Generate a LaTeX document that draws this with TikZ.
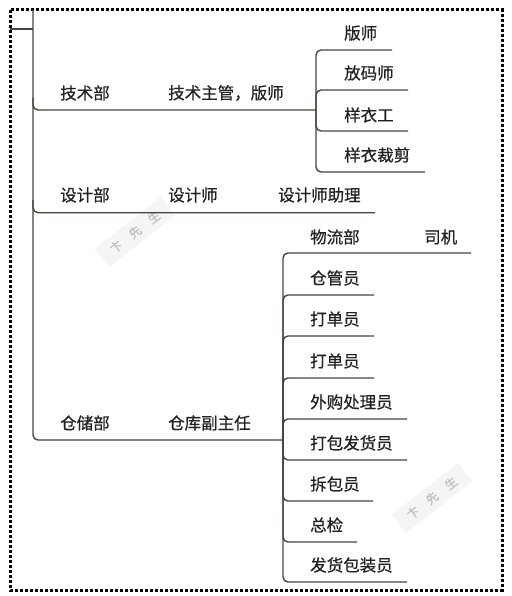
\documentclass[tikz,border=0pt]{standalone}
\usepackage{fontspec}
\setmainfont{Noto Sans CJK SC}[FakeBold=0.6]
\usetikzlibrary{calc}
\definecolor{lnc}{HTML}{4A443C}
\definecolor{txc}{HTML}{222222}
\tikzset{
  ln/.style={draw=lnc, line width=1.4pt, rounded corners=5pt},
  lbl/.style={anchor=west, inner sep=0pt, text=txc, font=\fontsize{16.5}{18}\selectfont},
  wm/.style={rotate=38, fill=gray!8, text=gray!50, inner xsep=12pt, inner ysep=6pt, font=\fontsize{12}{13}\selectfont},
  frame/.style={draw=black, line width=3pt, dash pattern=on 3pt off 2pt}
}
\begin{document}
\begin{tikzpicture}[x=1pt,y=-1pt]
\useasboundingbox (0,0) rectangle (511,596);
\fill[white] (0,0) rectangle (511,596);
% watermarks
\node[wm] (wm1) at (135,232) {卞\quad 先\quad 生};
\node[wm] (wm2) at (432,498) {卞\quad 先\quad 生};
% frame
\draw[frame] (10,10) rectangle (502,590);
% trunk
\coordinate (stub) at (10,29);
\coordinate (tk0) at (33,10);
\coordinate (tk1) at (33,29);
\coordinate (tk2) at (33,440);
\coordinate (tkA) at (33,98);
\coordinate (tkB) at (33,200);
\draw[ln] (stub) -- (tk1);
% junctions
\coordinate (jJS) at (316,110);
\coordinate (jCC) at (283,440);
\draw[ln] (tk0) -- (tk2) -- (jCC);
\draw[ln] (tkA) |- (jJS);
\draw[ln] (tkB) |- (375,212.7);
% labels level 1
\node[lbl] (jsb) at (60,93) {技术部};
\node[lbl] (jszg) at (168,93) {技术主管，版师};
\node[lbl] (sjb) at (60,195) {设计部};
\node[lbl] (sjs) at (168,195) {设计师};
\node[lbl] (sjszl) at (278,195) {设计师助理};
\node[lbl] (ccb) at (60,423) {仓储部};
\node[lbl] (ckfzr) at (168,423) {仓库副主任};
% tech children
\node[lbl] (bs) at (344,33) {版师};
\node[lbl] (fms) at (344,73) {放码师};
\node[lbl] (yyg) at (344,115) {样衣工};
\node[lbl] (yycj) at (344,155) {样衣裁剪};
\draw[ln] (jJS) |- (392,50);
\draw[ln] (jJS) |- (408,90);
\draw[ln] (jJS) |- (408,131);
\draw[ln] (jJS) |- (425,172);
% warehouse children
\node[lbl] (wlb) at (310,237) {物流部};
\node[lbl] (sj) at (424,237) {司机};
\node[lbl] (cgy) at (310,278) {仓管员};
\node[lbl] (dd1) at (310,319) {打单员};
\node[lbl] (dd2) at (310,361) {打单员};
\node[lbl] (wg) at (310,402) {外购处理员};
\node[lbl] (dbfh) at (310,443) {打包发货员};
\node[lbl] (cby) at (310,484) {拆包员};
\node[lbl] (zj) at (310,525) {总检};
\node[lbl] (fhbz) at (310,565) {发货包装员};
\draw[ln] (jCC) |- (471,253);
\draw[ln] (jCC) |- (374,295);
\draw[ln] (jCC) |- (374,336);
\draw[ln] (jCC) |- (374,378);
\draw[ln] (jCC) |- (407,419);
\draw[ln] (jCC) |- (407,460);
\draw[ln] (jCC) |- (373,501);
\draw[ln] (jCC) |- (357,542);
\draw[ln] (jCC) |- (407,582);
\end{tikzpicture}
\end{document}
